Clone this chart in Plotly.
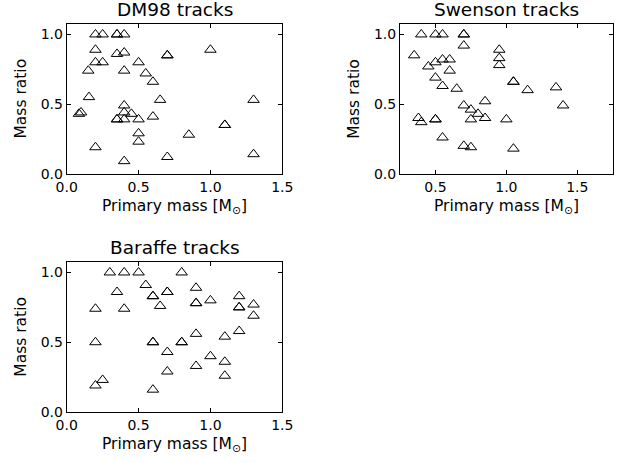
import plotly.graph_objects as go

# DM98 tracks
dm98_mass = [0.2, 0.25, 0.35, 0.35, 0.4, 0.2, 1.0, 0.35, 0.4, 0.7, 0.7, 0.2, 0.25, 0.5,
             0.15, 0.4, 0.55, 0.6, 0.155, 0.65, 1.3, 0.4, 0.085, 0.1, 0.4, 0.45,
             0.35, 0.35, 0.4, 0.5, 0.6, 1.1, 1.1, 0.5, 0.5, 0.85, 0.2, 1.3, 0.7, 0.4]
dm98_ratio = [1.0, 1.0, 1.0, 1.0, 1.0, 0.89, 0.89, 0.86, 0.87, 0.85, 0.85, 0.8, 0.8, 0.8,
              0.74, 0.74, 0.72, 0.66, 0.55, 0.53, 0.53, 0.49, 0.43, 0.44, 0.44, 0.43,
              0.39, 0.39, 0.39, 0.39, 0.41, 0.35, 0.35, 0.29, 0.23, 0.28, 0.19, 0.14, 0.12, 0.09]

# Swenson tracks
sw_mass = [0.4, 0.5, 0.55, 0.7, 0.7, 0.7, 0.35, 0.95, 0.95, 0.95, 0.45, 0.5, 0.55, 0.6, 0.6,
           0.5, 0.55, 0.65, 1.05, 1.05, 1.15, 1.35, 1.4, 0.85, 0.7, 0.75, 0.8, 0.85, 0.75, 1.0,
           0.38, 0.4, 0.5, 0.5, 0.55, 0.7, 0.75, 1.05]
sw_ratio = [1.0, 1.0, 1.0, 1.0, 1.0, 0.92, 0.85, 0.89, 0.83, 0.78, 0.77, 0.8, 0.82, 0.82, 0.74,
            0.69, 0.63, 0.61, 0.66, 0.66, 0.60, 0.62, 0.49, 0.52, 0.49, 0.46, 0.43, 0.40, 0.39, 0.39,
            0.40, 0.37, 0.39, 0.39, 0.26, 0.20, 0.19, 0.18]

# Baraffe tracks
bf_mass = [0.3, 0.4, 0.5, 0.8, 0.55, 0.9, 0.35, 0.7, 0.7, 0.6, 0.6, 1.2, 0.9, 0.9, 1.0, 0.65,
           1.3, 0.2, 0.4, 1.2, 1.2, 1.3, 1.2, 0.9, 1.1, 0.2, 0.6, 0.6, 0.8, 0.8, 0.7, 1.0,
           1.1, 0.9, 0.7, 1.1, 0.25, 0.2, 0.6]
bf_ratio = [1.0, 1.0, 1.0, 1.0, 0.91, 0.89, 0.86, 0.86, 0.86, 0.83, 0.83, 0.83, 0.78, 0.78, 0.80, 0.76,
            0.77, 0.74, 0.74, 0.75, 0.75, 0.69, 0.58, 0.56, 0.54, 0.5, 0.5, 0.5, 0.5, 0.5, 0.43, 0.40,
            0.36, 0.33, 0.29, 0.26, 0.23, 0.19, 0.16]

titles = ["DM98 tracks", "Swenson tracks", "Baraffe tracks"]
xlabel = "Primary mass [M<sub>⊙</sub>]"
ylabel = "Mass ratio"

W, H = 624, 463
FONT = "DejaVu Sans"

panels = [
    dict(x=dm98_mass, y=dm98_ratio, title=titles[0], px=(66.7, 282.3), py=(24, 173.7),
         xr=[0, 1.5], xt=[0, 0.5, 1.0, 1.5]),
    dict(x=sw_mass, y=sw_ratio, title=titles[1], px=(400, 612.7), py=(24, 173.7),
         xr=[0.25, 1.75], xt=[0.5, 1.0, 1.5]),
    dict(x=bf_mass, y=bf_ratio, title=titles[2], px=(66.7, 282.3), py=(262, 412),
         xr=[0, 1.5], xt=[0, 0.5, 1.0, 1.5]),
]

fig = go.Figure()
annotations = []
layout = {}
for i, p in enumerate(panels, start=1):
    xa = "x" if i == 1 else f"x{i}"
    ya = "y" if i == 1 else f"y{i}"
    fig.add_trace(go.Scatter(
        x=p["x"], y=p["y"], mode="markers", xaxis=xa, yaxis=ya,
        marker=dict(symbol="triangle-up-open", size=10, color="black",
                    line=dict(color="black", width=1)),
        showlegend=False, hoverinfo="skip"))
    x0, x1 = p["px"][0] / W, p["px"][1] / W
    y0, y1 = 1 - p["py"][1] / H, 1 - p["py"][0] / H
    common = dict(showline=True, linecolor="black", linewidth=1, mirror="ticks",
                  ticks="inside", ticklen=4, tickcolor="black", tickwidth=1,
                  showgrid=False, zeroline=False, tickformat=".1f", automargin=False,
                  tickfont=dict(family=FONT, size=14, color="black"))
    layout["xaxis" if i == 1 else f"xaxis{i}"] = dict(
        domain=[x0, x1], range=p["xr"], tickvals=p["xt"], anchor=ya, **common)
    layout["yaxis" if i == 1 else f"yaxis{i}"] = dict(
        domain=[y0, y1], range=[0, 1.075], tickvals=[0, 0.5, 1.0], anchor=xa, **common)
    cx = (p["px"][0] + p["px"][1]) / 2 / W
    annotations.append(dict(text=p["title"], x=cx, y=1 - (p["py"][0] - 14.5) / H,
                            xref="paper", yref="paper", showarrow=False,
                            font=dict(family=FONT, size=18.5, color="black"),
                            xanchor="center", yanchor="middle"))
    annotations.append(dict(text=xlabel, x=cx, y=1 - (p["py"][1] + 33) / H,
                            xref="paper", yref="paper", showarrow=False,
                            font=dict(family=FONT, size=15.5, color="black"),
                            xanchor="center", yanchor="middle"))
    annotations.append(dict(text=ylabel, x=(p["px"][0] - 46) / W,
                            y=1 - (p["py"][0] + p["py"][1]) / 2 / H,
                            xref="paper", yref="paper", showarrow=False, textangle=-90,
                            font=dict(family=FONT, size=15.5, color="black"),
                            xanchor="center", yanchor="middle"))

fig.update_layout(width=W, height=H, margin=dict(l=0, r=0, t=0, b=0),
                  paper_bgcolor="white", plot_bgcolor="white",
                  annotations=annotations, **layout)
fig.write_html("out.html", config={"displayModeBar": False, "staticPlot": True},
               post_script="document.body.style.margin='0';document.body.style.overflow='hidden';")
